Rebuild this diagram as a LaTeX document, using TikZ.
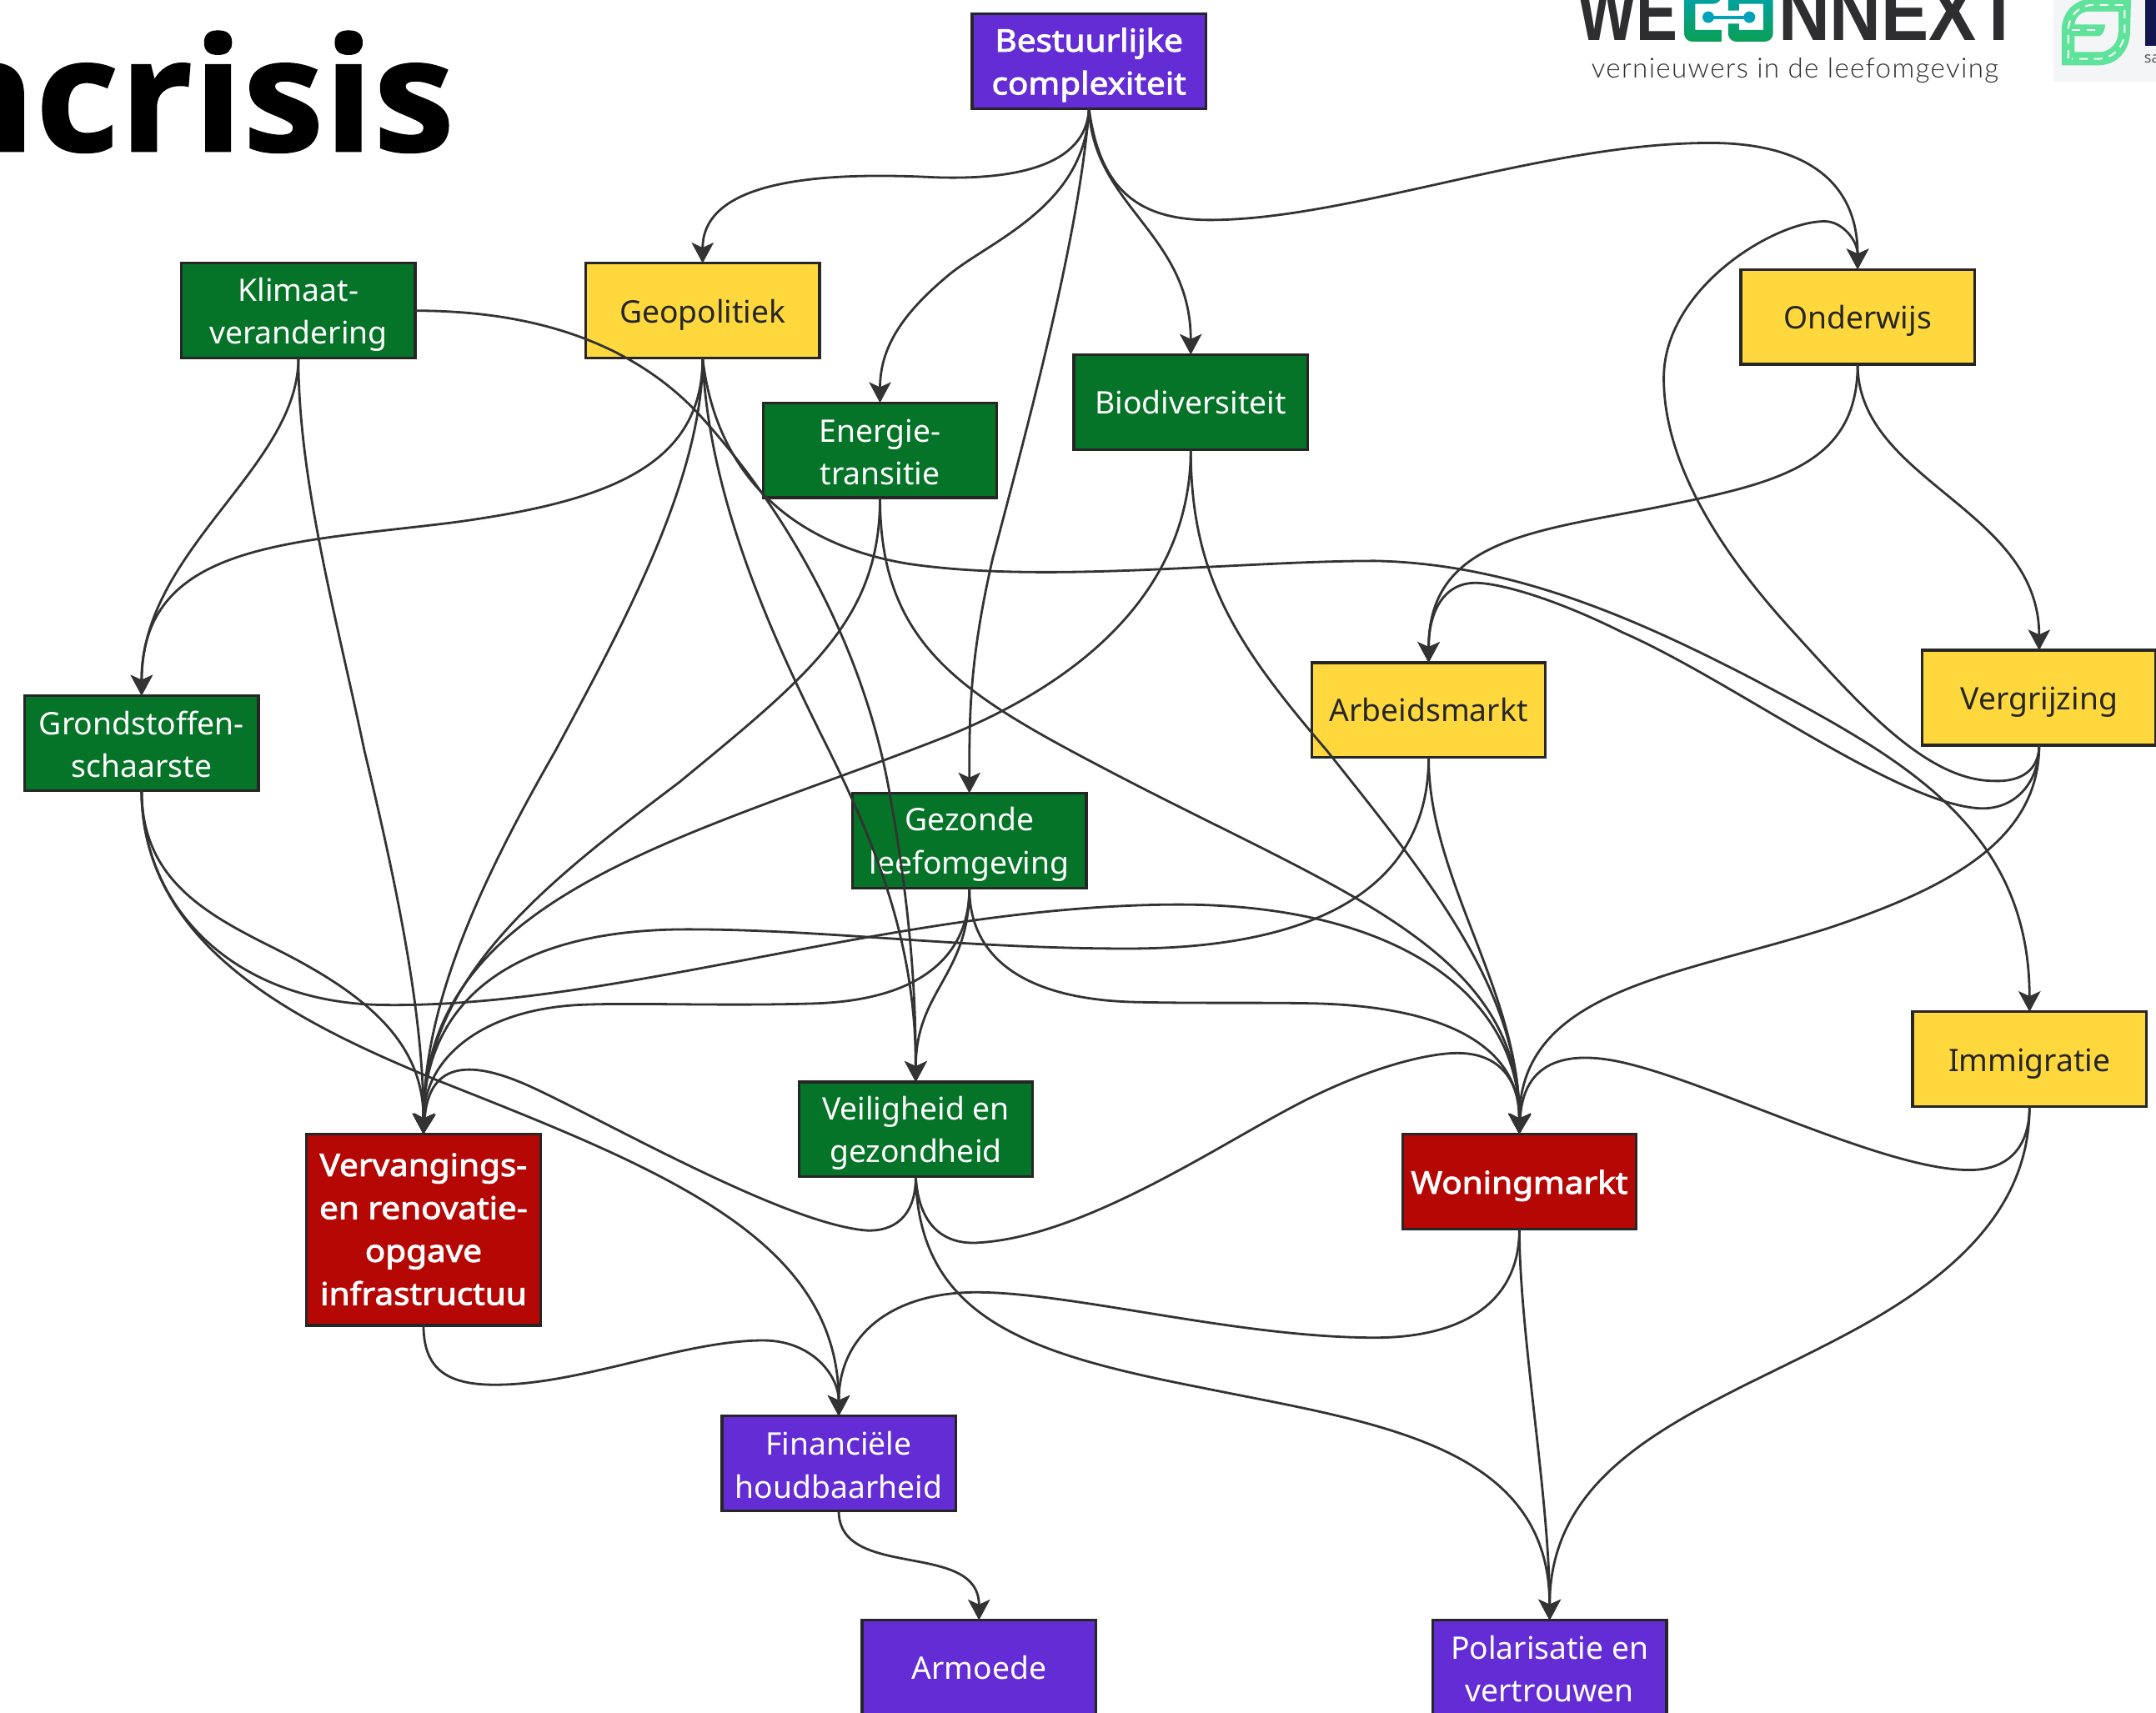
\documentclass[tikz,border=0pt]{standalone}
\usepackage{fontspec}
\usepackage{graphicx}
\setmainfont{Noto Sans}
\newfontfamily\nbold{Noto Sans}[FakeBold=2.4,FakeStretch=1.085]
\newfontfamily\titlefont{Open Sans}[BoldFeatures={FakeBold=1,FakeStretch=1.03}]
\newfontfamily\logofont{Liberation Sans}
\newfontfamily\subfont{Lato Light}[LetterSpace=4]
\newcommand\upr{\rule{0pt}{11.3pt}}
\newcommand\dnr{\rule[-3pt]{0pt}{3pt}}
\usetikzlibrary{arrows.meta}
\definecolor{cgreen}{HTML}{067428}
\definecolor{cyellow}{HTML}{FFD83E}
\definecolor{cpurple}{HTML}{642CD4}
\definecolor{cred}{HTML}{B50805}
\definecolor{cline}{HTML}{333333}
\definecolor{cborder}{HTML}{262626}
\definecolor{cdark}{HTML}{2E2D2F}
\definecolor{cteal}{HTML}{00A3B8}
\definecolor{cleafg}{HTML}{0A9F55}
\definecolor{cleaf}{HTML}{5FE39A}
\definecolor{cpale}{HTML}{F4F5F7}
\definecolor{cnavy}{HTML}{12174F}
\tikzset{
  x=0.5pt,y=-0.5pt,
  box/.style={draw=cborder,line width=1pt,rectangle,minimum width=85pt,minimum height=34.5pt,inner sep=0pt,outer sep=0pt,align=center,font=\fontsize{11.3}{15.6}\selectfont,
    execute at begin node={\rule{0pt}{11.5pt}},execute at end node={\rule[-1.8pt]{0pt}{1.8pt}}},
  gbox/.style={box,fill=cgreen,text=white},
  ybox/.style={box,fill=cyellow,text=black!85},
  pbox/.style={box,fill=cpurple,text=white},
  rbox/.style={box,fill=cred,text=white},
  edge/.style={draw=cline,line width=0.85pt,-{Stealth[length=7.5pt,width=8pt,inset=1.8pt]}}
}
\begin{document}
\begin{tikzpicture}
\useasboundingbox (0,0) rectangle (1568,1246);
\fill[white] (0,0) rectangle (1568,1246);
% title
\node[anchor=base east,inner sep=0pt,font=\titlefont\bfseries\fontsize{57.5}{60}\selectfont] (title) at (331,110) {ncrisis};
% WeConnext logo
\node[anchor=south west,inner sep=0pt,text=cdark] (we) at (1147,30) {\resizebox{36.5pt}{20pt}{\logofont\bfseries WE}};
\node[anchor=south west,inner sep=0pt,text=cdark] (nx) at (1293,30) {\resizebox{88pt}{20pt}{\logofont\bfseries NNEXT}};
\shade[top color=cteal,bottom color=cleafg,rounded corners=3pt]
  (1224.8,-12) -- (1252,-12) -- (1252,2.8) [sharp corners] -- (1232.9,2.8) -- (1232.9,21.8) -- (1252,21.8) -- (1252,30.3) [rounded corners=3pt] -- (1224.8,30.3) -- cycle;
\shade[top color=cteal,bottom color=cleafg,rounded corners=3pt]
  (1289.5,-12) -- (1289.5,30.3) -- (1256.8,30.3) [sharp corners] -- (1256.8,17.2) -- (1264.8,17.2) -- (1264.8,21.8) -- (1282.4,21.8) -- (1282.4,2.8) -- (1264.8,2.8) -- (1264.8,7.7) -- (1256.8,7.7) -- (1256.8,-12) -- cycle;
\fill[cteal] (1242.4,12.5) circle[radius=4.2];
\fill[cteal] (1272.3,12.5) circle[radius=4.2];
\draw[cteal,line width=1.2pt] (1242.4,12.5) -- (1272.3,12.5);
\node[anchor=base west,inner sep=0pt,text=cdark] (sub) at (1157,56.5) {\resizebox{148pt}{!}{\subfont vernieuwers in de leefomgeving}};
% right logo
\fill[cpale] (1493.3,0) rectangle (1568,59.2);
\begin{scope}[shift={(1485.6,0)},x=0.101pt,y=-0.101pt]
  \fill[cleaf] (68,235) -- (68,110) .. controls (68,40) and (120,-5) .. (180,-5) -- (318,-5) -- (315,110) .. controls (315,180) and (270,235) .. (200,235) -- cycle;
  \fill[cpale] (115,88) .. controls (118,60) and (140,42) .. (165,42) -- (272,42) -- (272,115) .. controls (272,155) and (240,187) .. (205,187) -- (115,187) -- (115,130) -- (205,130) .. controls (218,125) and (225,105) .. (225,88) -- cycle;
  \draw[white,line width=0.6pt,dash pattern=on 3pt off 2.4pt] (92,210) -- (92,110) .. controls (92,60) and (130,18) .. (180,18) -- (295,18) -- (295,110) .. controls (295,170) and (250,212) .. (200,212) -- (105,212);
  \draw[white,line width=0.6pt,dash pattern=on 3pt off 2.4pt] (105,108) -- (200,108);
\end{scope}
\fill[cnavy] (1560,0) rectangle (1568,33.3);
\node[anchor=base west,inner sep=0pt,text=black!65,font=\fontsize{5.5}{6}\selectfont] (sa) at (1559,46) {sa};
% nodes
\node[pbox,font=\nbold\fontsize{11.3}{15.6}\selectfont] (B) at (792,44.5) {\upr Bestuurlijke\\complexiteit};
\node[gbox] (KL) at (217,226) {\upr Klimaat-\\verandering};
\node[ybox] (GP) at (511,226) {Geopolitiek};
\node[gbox] (EN) at (640,327.5) {\upr Energie-\\transitie};
\node[gbox] (BD) at (866,292.5) {Biodiversiteit\dnr};
\node[ybox] (ON) at (1351,230.5) {Onderwijs};
\node[gbox] (GR) at (103,540.5) {\upr Grondstoffen-\\schaarste};
\node[ybox] (AR) at (1039,516.5) {Arbeidsmarkt\dnr};
\node[ybox] (VG) at (1483,507.5) {Vergrijzing};
\node[gbox] (GZ) at (705,611.5) {\upr Gezonde\\leefomgeving};
\node[ybox] (IM) at (1476,770.5) {Immigratie};
\node[gbox] (VE) at (666,821.5) {\upr Veiligheid en\\gezondheid};
\node[rbox,minimum height=69.5pt,font=\nbold\fontsize{11.3}{15.6}\selectfont] (VV) at (308,894.5) {\rule{0pt}{9.6pt}Vervangings-\\en renovatie-\\opgave\\infrastructuu};
\node[rbox,font=\nbold\fontsize{11.3}{15.6}\selectfont] (WO) at (1105,859.5) {Woningmarkt};
\node[pbox] (FI) at (610,1064.5) {\upr Financiële\\houdbaarheid};
\node[pbox] (AM) at (712,1213) {Armoede\dnr};
\node[pbox] (PO) at (1127,1213) {\upr Polarisatie en\\vertrouwen};
% edges
\draw[edge] (B.south) .. controls (790,120) and (740,131) .. (680,129) .. controls (600,125) and (511,130) .. (GP.north);
\draw[edge] (B.south) .. controls (790,150) and (720,175) .. (690,200) .. controls (660,225) and (640,250) .. (EN.north);
\draw[edge] (B.south) .. controls (785,170) and (750,300) .. (722,406) .. controls (705,480) and (705,520) .. (GZ.north);
\draw[edge] (B.south) .. controls (795,150) and (866,170) .. (BD.north);
\draw[edge] (B.south) .. controls (800,140) and (830,160) .. (880,160) .. controls (980,160) and (1120,105) .. (1240,104) .. controls (1310,103) and (1351,130) .. (ON.north);
\draw[edge] (KL.south) .. controls (217,340) and (103,400) .. (GR.north);
\draw[edge] (KL.south) .. controls (217,350) and (245,450) .. (265,546) .. controls (290,650) and (308,740) .. (VV.north);
\draw[edge] (KL.east) .. controls (390,226) and (460,250) .. (508,301) .. controls (580,380) and (630,480) .. (647,577) .. controls (660,650) and (666,710) .. (VE.north);
\draw[edge] (GP.south) .. controls (511,340) and (440,365) .. (330,380) .. controls (210,395) and (103,395) .. (GR.north);
\draw[edge] (GP.south) .. controls (511,350) and (450,460) .. (404,546) .. controls (350,640) and (308,730) .. (VV.north);
\draw[edge] (GP.south) .. controls (515,360) and (560,460) .. (600,540) .. controls (640,620) and (666,690) .. (VE.north);
\draw[edge] (GP.south) .. controls (520,340) and (570,395) .. (660,410) .. controls (760,425) and (900,408) .. (1000,408) .. controls (1100,410) and (1190,450) .. (1275,494) .. controls (1380,550) and (1476,600) .. (IM.north);
\draw[edge] (EN.south) .. controls (640,450) and (590,490) .. (494,569) .. controls (400,640) and (308,710) .. (VV.north);
\draw[edge] (BD.south) .. controls (866,420) and (800,490) .. (690,535) .. controls (500,610) and (308,650) .. (VV.north);
\draw[edge] (EN.south) .. controls (640,470) and (700,505) .. (807,561) .. controls (975,649) and (1105,690) .. (WO.north);
\draw[edge] (BD.south) .. controls (866,420) and (900,470) .. (965,546) .. controls (1040,640) and (1105,720) .. (WO.north);
\draw[edge] (AR.south) .. controls (1039,640) and (1105,720) .. (WO.north);
\draw[edge] (AR.south) .. controls (1039,650) and (950,690) .. (820,690) .. controls (700,690) and (600,676) .. (500,676) .. controls (370,676) and (308,730) .. (VV.north);
\draw[edge] (GR.south) .. controls (103,640) and (150,665) .. (200,690) .. controls (270,725) and (308,760) .. (VV.north);
\draw[edge] (GR.south) .. controls (103,660) and (170,730) .. (280,731) .. controls (450,733) and (650,660) .. (850,658) .. controls (1010,656) and (1105,720) .. (WO.north);
\draw[edge] (GR.south) .. controls (103,690) and (220,745) .. (316,785) .. controls (480,850) and (610,900) .. (FI.north);
\draw[edge] (VE.south) .. controls (666,885) and (650,896) .. (630,895) .. controls (570,890) and (440,815) .. (385,790) .. controls (345,772) and (312,770) .. (VV.north);
\draw[edge] (VE.south) .. controls (668,890) and (685,905) .. (710,904) .. controls (790,900) and (890,830) .. (950,800) .. controls (1000,775) and (1040,766) .. (1060,766) .. controls (1090,766) and (1105,785) .. (WO.north);
\draw[edge] (VE.south) .. controls (668,960) and (750,985) .. (872,1009) .. controls (1000,1035) and (1127,1050) .. (PO.north);
\draw[edge] (VV.south) .. controls (308,1000) and (330,1009) .. (370,1007) .. controls (430,1004) and (500,975) .. (555,975) .. controls (590,975) and (610,1000) .. (FI.north);
\draw[edge] (WO.south) .. controls (1105,950) and (1060,973) .. (1000,973) .. controls (900,973) and (780,940) .. (710,940) .. controls (650,940) and (610,970) .. (FI.north);
\draw[edge] (WO.south) .. controls (1105,970) and (1127,1090) .. (PO.north);
\draw[edge] (IM.south) .. controls (1476,880) and (1420,930) .. (1340,972) .. controls (1240,1025) and (1127,1060) .. (PO.north);
\draw[edge] (IM.south) .. controls (1476,835) and (1460,852) .. (1430,851) .. controls (1370,850) and (1250,790) .. (1185,774) .. controls (1150,765) and (1108,765) .. (WO.north);
\draw[edge] (GZ.south) .. controls (705,695) and (670,728) .. (590,730) .. controls (520,732) and (460,729) .. (420,731) .. controls (350,735) and (308,770) .. (VV.north);
\draw[edge] (GZ.south) .. controls (705,710) and (666,720) .. (VE.north);
\draw[edge] (GZ.south) .. controls (705,700) and (750,728) .. (830,729) .. controls (880,730) and (920,729) .. (960,730) .. controls (1050,733) and (1105,760) .. (WO.north);
\draw[edge] (ON.south) .. controls (1351,340) and (1290,352) .. (1200,370) .. controls (1110,387) and (1039,395) .. (AR.north);
\draw[edge] (ON.south) .. controls (1351,350) and (1483,370) .. (VG.north);
\draw[edge] (VG.south) .. controls (1483,560) and (1470,569) .. (1450,568) .. controls (1400,568) and (1350,510) .. (1300,455) .. controls (1255,405) and (1210,340) .. (1210,275) .. controls (1210,210) and (1290,161) .. (1327,161) .. controls (1340,161) and (1351,175) .. (ON.north);
\draw[edge] (VG.south) .. controls (1483,570) and (1465,589) .. (1440,588) .. controls (1380,585) and (1260,495) .. (1180,460) .. controls (1130,435) and (1090,424) .. (1073,424) .. controls (1050,424) and (1039,445) .. (AR.north);
\draw[edge] (VG.south) .. controls (1483,610) and (1420,645) .. (1330,675) .. controls (1220,710) and (1105,720) .. (WO.north);
\draw[edge] (FI.south) .. controls (610,1150) and (712,1120) .. (AM.north);
\end{tikzpicture}
\end{document}
